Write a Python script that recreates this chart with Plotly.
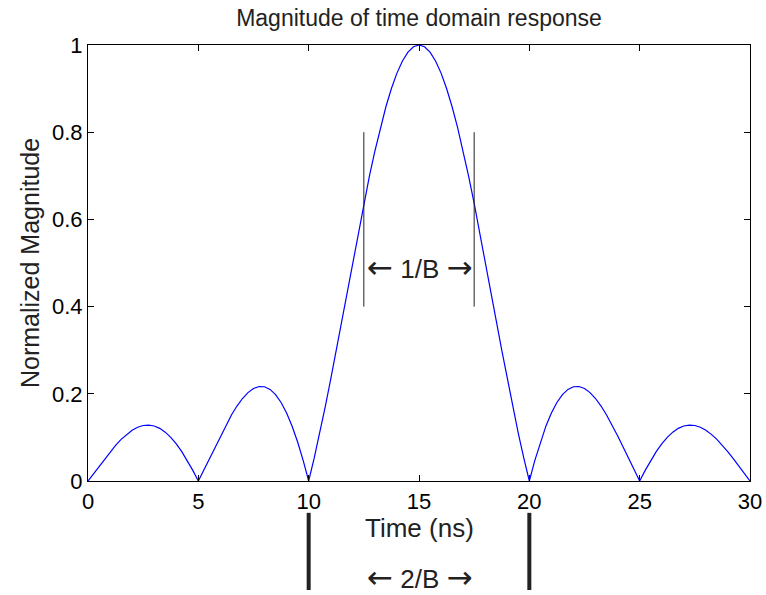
import plotly.graph_objects as go

# Sample times (ns), 0.25 ns spacing
time_ns = [i * 0.25 for i in range(121)]

# Normalized magnitude
magnitude = [
    0.0000, 0.0169, 0.0339, 0.0507, 0.0668, 0.0819, 0.0954, 0.1070, 0.1164, 0.1233,
    0.1273, 0.1283, 0.1261, 0.1207, 0.1120, 0.1000, 0.0850, 0.0672, 0.0468, 0.0243,
    0.0000, 0.0255, 0.0518, 0.0781, 0.1039, 0.1286, 0.1515, 0.1719, 0.1892, 0.2028,
    0.2122, 0.2168, 0.2162, 0.2101, 0.1981, 0.1801, 0.1559, 0.1257, 0.0894, 0.0474,
    0.0000, 0.0524, 0.1093, 0.1700, 0.2339, 0.3001, 0.3679, 0.4363, 0.5046, 0.5716,
    0.6366, 0.6987, 0.7568, 0.8103, 0.8584, 0.9003, 0.9355, 0.9634, 0.9836, 0.9959,
    1.0000,
    0.9959, 0.9836, 0.9634, 0.9355, 0.9003, 0.8584, 0.8103, 0.7568, 0.6987, 0.6366,
    0.5716, 0.5046, 0.4363, 0.3679, 0.3001, 0.2339, 0.1700, 0.1093, 0.0524, 0.0000,
    0.0474, 0.0894, 0.1257, 0.1559, 0.1801, 0.1981, 0.2101, 0.2162, 0.2168, 0.2122,
    0.2028, 0.1892, 0.1719, 0.1515, 0.1286, 0.1039, 0.0781, 0.0518, 0.0255, 0.0000,
    0.0243, 0.0468, 0.0672, 0.0850, 0.1000, 0.1120, 0.1207, 0.1261, 0.1283, 0.1273,
    0.1233, 0.1164, 0.1070, 0.0954, 0.0819, 0.0668, 0.0507, 0.0339, 0.0169, 0.0000,
]

x_ticks = [0, 5, 10, 15, 20, 25, 30]
x_tick_labels = ["0", "5", "10", "15", "20", "25", "30"]
y_ticks = [0, 0.2, 0.4, 0.6, 0.8, 1.0]
y_tick_labels = ["0", "0.2", "0.4", "0.6", "0.8", "1"]

# Annotation markers
half_width_marks = [12.5, 17.5]   # 1/B markers
half_mark_range = [0.4, 0.8]
full_width_marks = [10, 20]       # 2/B markers

FONT = "Liberation Sans, Arial, Helvetica, sans-serif"
LA = "<span style='font-family:DejaVu Sans;font-size:31px'>\u2190</span>"
RA = "<span style='font-family:DejaVu Sans;font-size:31px'>\u2192</span>"

fig = go.Figure()
fig.add_trace(go.Scatter(
    x=time_ns, y=magnitude, mode="lines",
    line=dict(color="#0000ff", width=1.2),
    showlegend=False, hoverinfo="skip",
))

shapes = []
for xm in half_width_marks:
    shapes.append(dict(type="line", xref="x", yref="y", x0=xm, x1=xm,
                       y0=half_mark_range[0], y1=half_mark_range[1],
                       line=dict(color="#222222", width=1)))
for xm in full_width_marks:
    shapes.append(dict(type="line", xref="x", yref="paper", x0=xm, x1=xm,
                       y0=-0.073, y1=-0.25,
                       line=dict(color="#222222", width=4)))

annotations = [
    dict(x=15, y=0.49, xref="x", yref="y", text=LA + " 1/B " + RA,
         showarrow=False, font=dict(family=FONT, size=26, color="#222222"),
         xanchor="center", yanchor="middle"),
    dict(x=15, y=-0.22, xref="x", yref="paper", text=LA + " 2/B " + RA,
         showarrow=False, font=dict(family=FONT, size=26, color="#222222"),
         xanchor="center", yanchor="middle"),
    dict(x=15, y=-0.108, xref="x", yref="paper", text="Time (ns)",
         showarrow=False, font=dict(family=FONT, size=26, color="#222222"),
         xanchor="center", yanchor="middle"),
    dict(x=-0.0876, y=0.5, xref="paper", yref="paper", text="Normalized Magnitude",
         showarrow=False, textangle=-90, font=dict(family=FONT, size=25, color="#222222"),
         xanchor="center", yanchor="middle"),
]

fig.update_layout(
    width=766, height=595,
    margin=dict(l=88, r=16, t=45, b=114, autoexpand=False),
    paper_bgcolor="white", plot_bgcolor="white",
    font=dict(family=FONT, color="#000000"),
    title=dict(text="Magnitude of time domain response", x=0.5, xanchor="center",
               xref="paper",
               y=1 - 18 / 595, yanchor="middle", yref="container",
               font=dict(family=FONT, size=23, color="#222222")),
    shapes=shapes,
    annotations=annotations,
    showlegend=False,
)
fig.update_xaxes(
    range=[0, 30], tickvals=x_ticks, ticktext=x_tick_labels,
    ticks="inside", ticklen=6, tickcolor="black", tickwidth=1,
    showline=True, linecolor="black", linewidth=1.2, mirror="ticks",
    showgrid=False, zeroline=False, automargin=False,
    tickfont=dict(family=FONT, size=22, color="#000000"),
)
fig.update_yaxes(
    range=[0, 1], tickvals=y_ticks, ticktext=y_tick_labels,
    ticks="inside", ticklen=6, tickcolor="black", tickwidth=1,
    showline=True, linecolor="black", linewidth=1.2, mirror="ticks",
    showgrid=False, zeroline=False, automargin=False,
    tickfont=dict(family=FONT, size=22, color="#000000"),
)

fig.write_html("out.html")
